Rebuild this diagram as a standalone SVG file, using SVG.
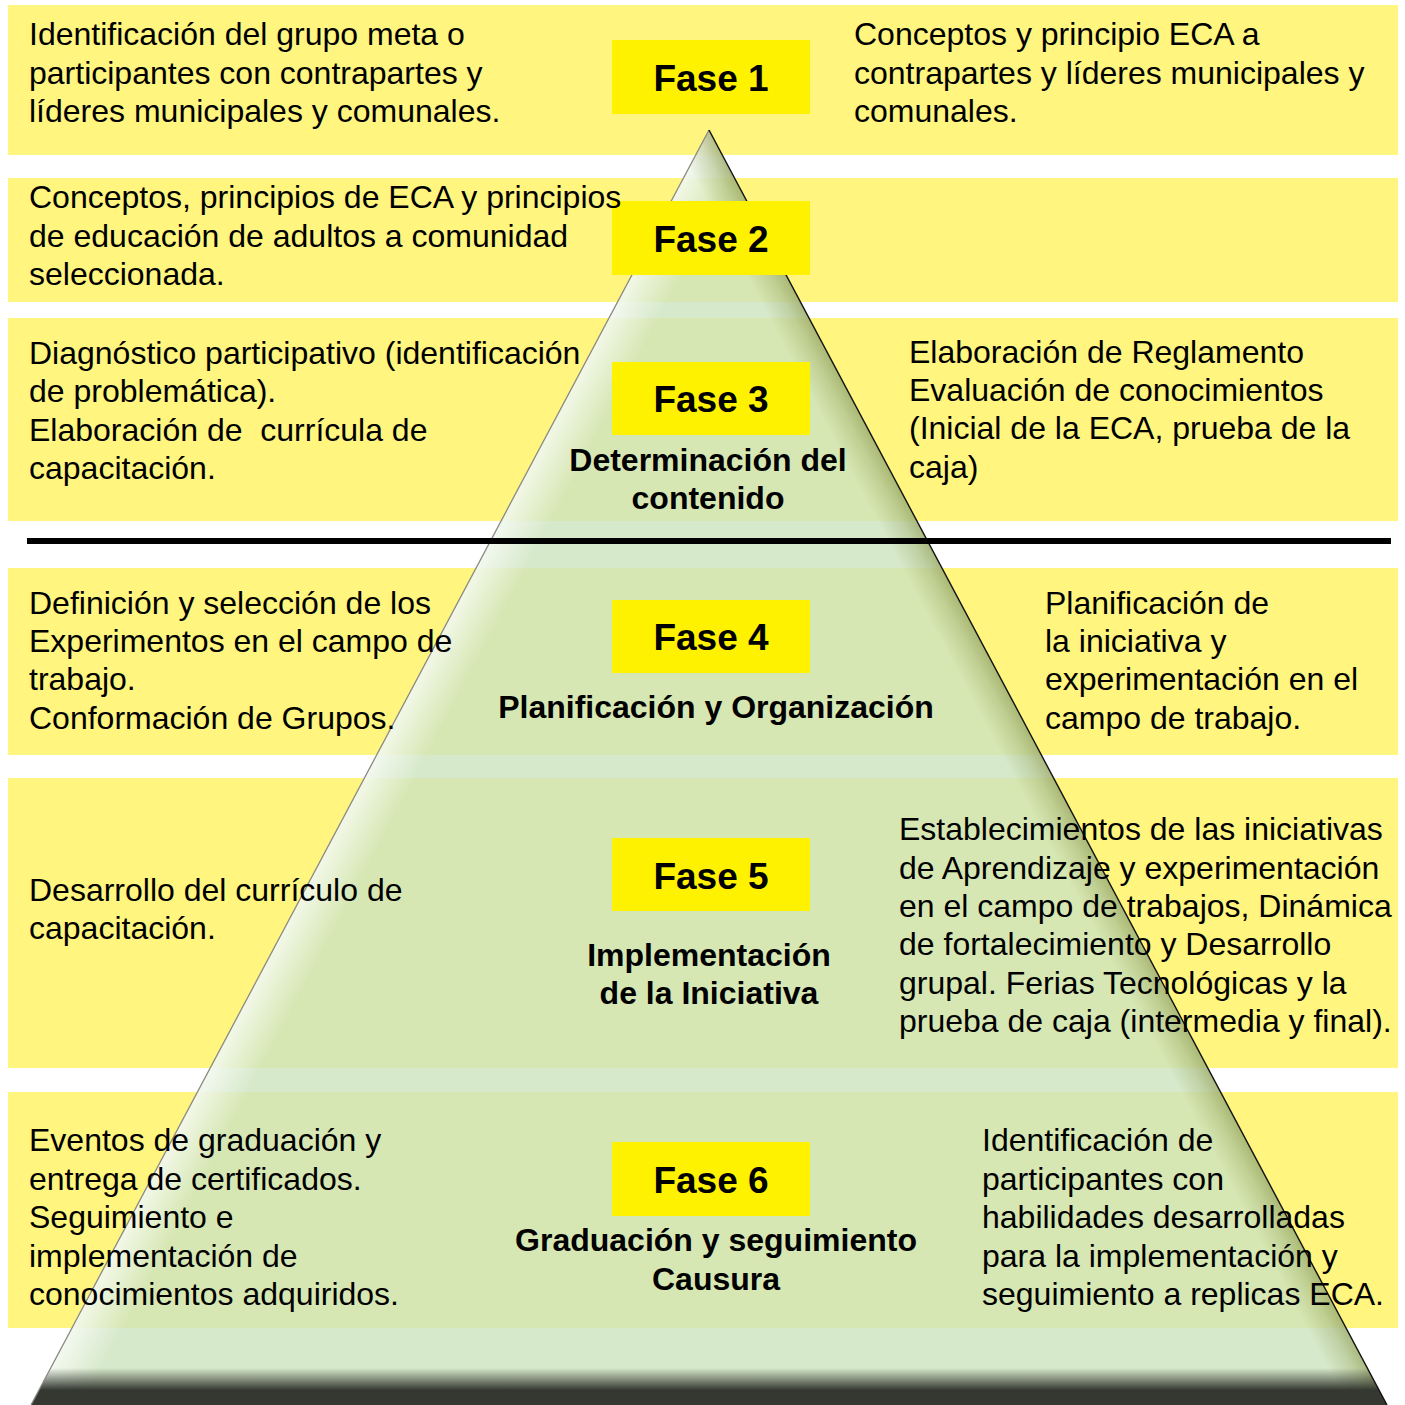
<svg xmlns="http://www.w3.org/2000/svg" width="1405" height="1405" viewBox="0 0 1405 1405">
<style>
.band{fill:#FFF57F}
.fase{fill:#FFF200}
.t{font-family:"Liberation Sans",Arial,sans-serif;font-size:32px;fill:#000}
.fl{font-family:"Liberation Sans",Arial,sans-serif;font-size:37px;font-weight:bold;fill:#000;text-anchor:middle}
.st{font-family:"Liberation Sans",Arial,sans-serif;font-size:32px;font-weight:bold;fill:#000;text-anchor:middle}
</style>
<defs>
<clipPath id="pyr"><polygon points="709,130 1387,1405 31,1405"/></clipPath>
<linearGradient id="lhl" gradientUnits="userSpaceOnUse" x1="370" y1="767.5" x2="410" y2="788.7">
<stop offset="0" stop-color="#ffffff" stop-opacity="0.7"/>
<stop offset="1" stop-color="#ffffff" stop-opacity="0"/>
</linearGradient>
<linearGradient id="rsh" gradientUnits="userSpaceOnUse" x1="1048" y1="767.5" x2="1017" y2="784">
<stop offset="0" stop-color="#7f8a35" stop-opacity="0.5"/>
<stop offset="0.4" stop-color="#7f8a35" stop-opacity="0.25"/>
<stop offset="1" stop-color="#7f8a35" stop-opacity="0"/>
</linearGradient>
<linearGradient id="bot" x1="0" y1="1368" x2="0" y2="1405" gradientUnits="userSpaceOnUse">
<stop offset="0" stop-color="#343831" stop-opacity="0"/>
<stop offset="0.6" stop-color="#343831" stop-opacity="1"/>
<stop offset="1" stop-color="#343831" stop-opacity="1"/>
</linearGradient>
</defs>
<rect width="1405" height="1405" fill="#ffffff"/>
<g id="bands">
<rect class="band" x="8" y="5" width="1390" height="150"/>
<rect class="band" x="8" y="178" width="1390" height="124"/>
<rect class="band" x="8" y="318" width="1390" height="203"/>
<rect class="band" x="8" y="568" width="1390" height="187"/>
<rect class="band" x="8" y="778" width="1390" height="290"/>
<rect class="band" x="8" y="1092" width="1390" height="236"/>
</g>
<g id="pyramid">
<polygon points="709,130 1387,1405 31,1405" fill="#CDE4BE" fill-opacity="0.82"/>
<g clip-path="url(#pyr)">
<rect x="0" y="100" width="1405" height="1305" fill="url(#lhl)"/>
<rect x="0" y="100" width="1405" height="1305" fill="url(#rsh)"/>
<rect x="0" y="1360" width="1405" height="45" fill="url(#bot)"/>
</g>
<line x1="709" y1="130" x2="31" y2="1405" stroke="#8a8a80" stroke-width="1.3"/>
<line x1="709" y1="130" x2="1387" y2="1405" stroke="#111" stroke-width="1.4"/>
</g>
<g id="separator"><rect x="27" y="538" width="1364" height="6" fill="#000"/></g>
<g id="fase1"><rect class="fase" x="612" y="40" width="198" height="74"/><text class="fl" x="711" y="91">Fase 1</text></g>
<g id="fase2"><rect class="fase" x="612" y="201" width="198" height="74"/><text class="fl" x="711" y="252">Fase 2</text></g>
<g id="fase3"><rect class="fase" x="612" y="362" width="198" height="73"/><text class="fl" x="711" y="412">Fase 3</text>
<text class="st" x="708" y="471">Determinación del</text><text class="st" x="708" y="509">contenido</text></g>
<g id="fase4"><rect class="fase" x="612" y="600" width="198" height="73"/><text class="fl" x="711" y="650">Fase 4</text>
<text class="st" x="716" y="718">Planificación y Organización</text></g>
<g id="fase5"><rect class="fase" x="612" y="838" width="198" height="73"/><text class="fl" x="711" y="889">Fase 5</text>
<text class="st" x="709" y="966">Implementación</text><text class="st" x="709" y="1004">de la Iniciativa</text></g>
<g id="fase6"><rect class="fase" x="612" y="1142" width="198" height="74"/><text class="fl" x="711" y="1193">Fase 6</text>
<text class="st" x="716" y="1251">Graduación y seguimiento</text><text class="st" x="716" y="1290">Causura</text></g>
<g id="texts">
<text class="t" x="29" y="45">Identificación del grupo meta o</text>
<text class="t" x="29" y="84">participantes con contrapartes y</text>
<text class="t" x="29" y="122">líderes municipales y comunales.</text>
<text class="t" x="854" y="45">Conceptos y principio ECA a</text>
<text class="t" x="854" y="84">contrapartes y líderes municipales y</text>
<text class="t" x="854" y="122">comunales.</text>
<text class="t" x="29" y="208">Conceptos, principios de ECA y principios</text>
<text class="t" x="29" y="247">de educación de adultos a comunidad</text>
<text class="t" x="29" y="285">seleccionada.</text>
<text class="t" x="29" y="364">Diagnóstico participativo (identificación</text>
<text class="t" x="29" y="402">de problemática).</text>
<text class="t" x="29" y="441" xml:space="preserve">Elaboración de  currícula de</text>
<text class="t" x="29" y="479">capacitación.</text>
<text class="t" x="909" y="363">Elaboración de Reglamento</text>
<text class="t" x="909" y="401">Evaluación de conocimientos</text>
<text class="t" x="909" y="439">(Inicial de la ECA, prueba de la</text>
<text class="t" x="909" y="478">caja)</text>
<text class="t" x="29" y="614">Definición y selección de los</text>
<text class="t" x="29" y="652">Experimentos en el campo de</text>
<text class="t" x="29" y="690">trabajo.</text>
<text class="t" x="29" y="729">Conformación de Grupos.</text>
<text class="t" x="1045" y="614">Planificación de</text>
<text class="t" x="1045" y="652">la iniciativa y</text>
<text class="t" x="1045" y="690">experimentación en el</text>
<text class="t" x="1045" y="729">campo de trabajo.</text>
<text class="t" x="29" y="901">Desarrollo del currículo de</text>
<text class="t" x="29" y="939">capacitación.</text>
<text class="t" x="899" y="840">Establecimientos de las iniciativas</text>
<text class="t" x="899" y="879">de Aprendizaje y experimentación</text>
<text class="t" x="899" y="917">en el campo de trabajos, Dinámica</text>
<text class="t" x="899" y="955">de fortalecimiento y Desarrollo</text>
<text class="t" x="899" y="994">grupal. Ferias Tecnológicas y la</text>
<text class="t" x="899" y="1032">prueba de caja (intermedia y final).</text>
<text class="t" x="29" y="1151">Eventos de graduación y</text>
<text class="t" x="29" y="1190">entrega de certificados.</text>
<text class="t" x="29" y="1228">Seguimiento e</text>
<text class="t" x="29" y="1267">implementación de</text>
<text class="t" x="29" y="1305">conocimientos adquiridos.</text>
<text class="t" x="982" y="1151">Identificación de</text>
<text class="t" x="982" y="1190">participantes con</text>
<text class="t" x="982" y="1228">habilidades desarrolladas</text>
<text class="t" x="982" y="1267">para la implementación y</text>
<text class="t" x="982" y="1305">seguimiento a replicas ECA.</text>
</g>
</svg>
